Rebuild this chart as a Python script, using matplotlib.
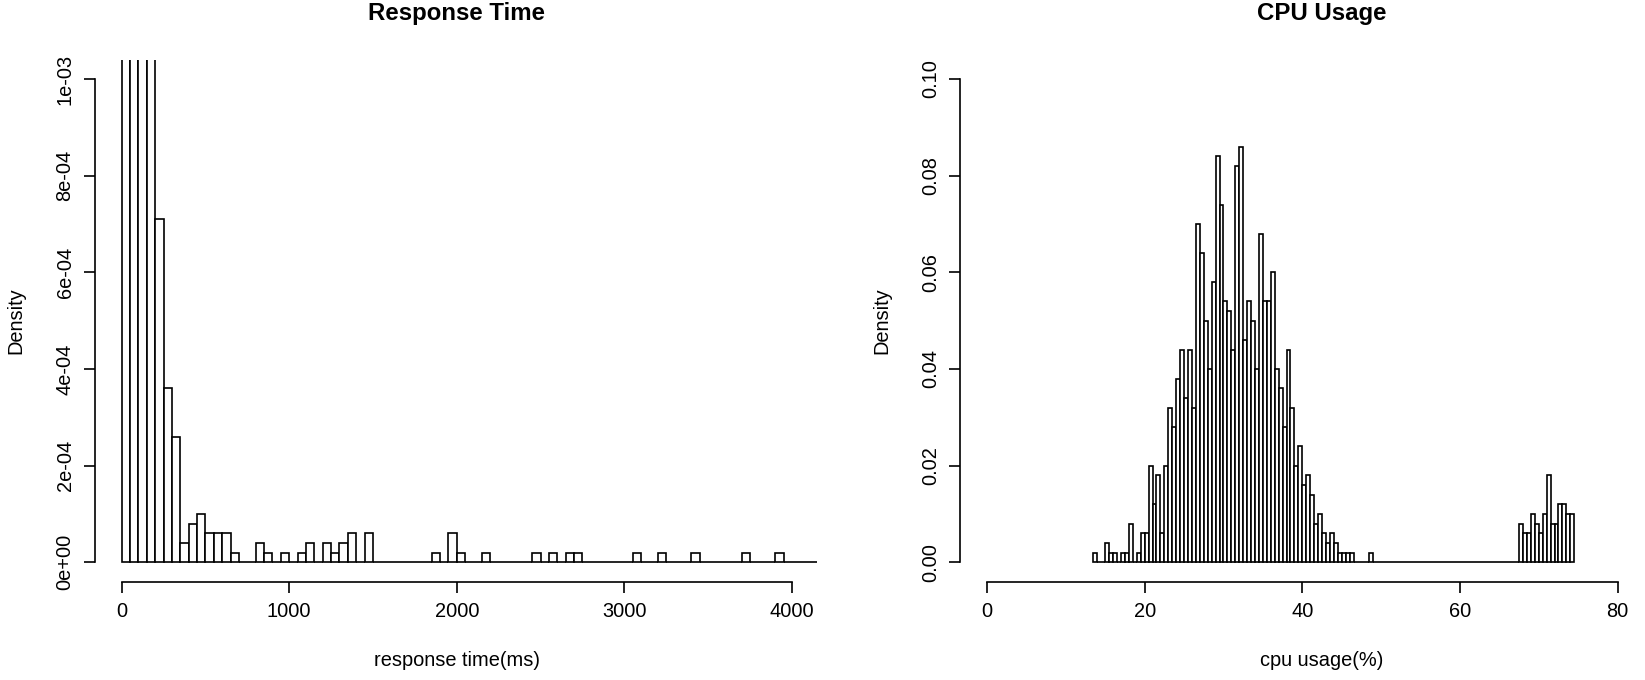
import matplotlib
matplotlib.use("Agg")
import matplotlib.pyplot as plt
import numpy as np

# ---------------- data ----------------
# Response time histogram: bins of 50 ms starting at 0 (density values, x1e-4)
rt_bin_start = 0
rt_bin_width = 50
rt_density_e4 = [
    24, 58, 60, 34, 7.1, 3.6, 2.6, 0.4, 0.8, 1.0,      # 0 - 500
    0.6, 0.6, 0.6, 0.2, 0, 0, 0.4, 0.2, 0, 0.2,        # 500 - 1000
    0, 0.2, 0.4, 0, 0.4, 0.2, 0.4, 0.6, 0, 0.6,        # 1000 - 1500
    0, 0, 0, 0, 0, 0, 0, 0.2, 0, 0.6,                  # 1500 - 2000
    0.2, 0, 0, 0.2, 0, 0, 0, 0, 0, 0.2,                # 2000 - 2500
    0, 0.2, 0, 0.2, 0.2, 0, 0, 0, 0, 0,                # 2500 - 3000
    0, 0.2, 0, 0, 0.2, 0, 0, 0, 0.2, 0,                # 3000 - 3500
    0, 0, 0, 0, 0.2, 0, 0, 0, 0.2, 0,                  # 3500 - 4000
    0, 0, 0,                                           # 4000 - 4150
]
rt_xticks = [0, 1000, 2000, 3000, 4000]
rt_yticks = [0, 2e-4, 4e-4, 6e-4, 8e-4, 1e-3]
rt_yticklabels = ["0e+00", "2e-04", "4e-04", "6e-04", "8e-04", "1e-03"]

# CPU usage histogram: bins of 0.5 % starting at 13.5 (observation counts, N = 1000)
cpu_bin_start = 13.5
cpu_bin_width = 0.5
cpu_counts = [
    1, 0, 0, 2, 1, 1, 0, 1, 1, 4, 0, 1, 3, 3,                 # 13.5 - 20.5
    10, 6, 9, 3, 10, 16, 14, 19, 22, 17, 22, 16,              # 20.5 - 26.5
    35, 32, 25, 20, 29, 42, 37, 27, 26, 22, 41, 43,           # 26.5 - 32.5
    23, 27, 25, 20, 34, 27, 27, 30, 20, 18, 14, 22, 16,       # 32.5 - 39.0
    10, 12, 8, 9, 7, 4,                                       # 39.0 - 42.0
    5, 3, 2, 3, 2, 1, 1, 1, 1, 0, 0, 0, 0, 1,                 # 42.0 - 49.0
    0, 0, 0, 0, 0, 0, 0, 0, 0, 0, 0, 0, 0, 0, 0, 0, 0, 0, 0,  # 49.0 - 58.5
    0, 0, 0, 0, 0, 0, 0, 0, 0, 0, 0, 0, 0, 0, 0, 0, 0, 0,     # 58.5 - 67.5
    4, 3, 3, 5, 4, 3, 5, 9, 4, 4, 6, 6, 5, 5,                 # 67.5 - 74.5
]
cpu_n = 1000
cpu_xticks = [0, 20, 40, 60, 80]
cpu_yticks = [0, 0.02, 0.04, 0.06, 0.08, 0.10]
cpu_yticklabels = ["0.00", "0.02", "0.04", "0.06", "0.08", "0.10"]

titles = ["Response Time", "CPU Usage"]
xlabels = ["response time(ms)", "cpu usage(%)"]
ylabel = "Density"

# ---------------- layout (pixels) ----------------
W, H = 1645, 680
Y_TOP, Y_BOT = 59.7, 581.6
LINE = 23.0
FS = 14.4          # tick / axis label size (pt at 100 dpi)
FS_TITLE = 17.3
LW = 1.2

plt.rcParams["font.family"] = ["Liberation Sans", "DejaVu Sans"]

fig = plt.figure(figsize=(W / 100, H / 100), dpi=100)
fig.patch.set_facecolor("white")


def px_ax(x0, x1):
    return fig.add_axes([x0 / W, 1 - Y_BOT / H, (x1 - x0) / W, (Y_BOT - Y_TOP) / H])


def style(ax, xlim, ylim, xticks, yticks, yticklabels, title, xlabel, x0px, x1px):
    ax.set_xlim(*xlim)
    ax.set_ylim(*ylim)
    for s in ["top", "right"]:
        ax.spines[s].set_visible(False)
    ax.spines["left"].set_bounds(yticks[0], yticks[-1])
    ax.spines["bottom"].set_bounds(xticks[0], xticks[-1])
    for s in ["left", "bottom"]:
        ax.spines[s].set_linewidth(LW)
    ax.set_xticks(xticks)
    ax.set_xticklabels([str(t) for t in xticks])
    ax.set_yticks(yticks)
    ax.set_yticklabels(yticklabels, rotation=90, va="center")
    ax.tick_params(direction="out", length=LINE * 0.5 * 0.72, width=LW,
                   labelsize=FS, pad=LINE * 0.5 * 0.72 - 2)
    ax.set_facecolor("none")
    cx = (x0px + x1px) / 2
    cy = (Y_TOP + Y_BOT) / 2
    fig.text(cx / W, 1 - 20 / H, title, ha="center", va="baseline",
             fontsize=FS_TITLE, fontweight="bold")
    fig.text(cx / W, 1 - (Y_BOT + 3 * LINE) / H, xlabel, ha="center", va="top",
             fontsize=FS)
    fig.text((x0px - 3 * LINE) / W, 1 - cy / H, ylabel, ha="right", va="center",
             rotation=90, fontsize=FS)


# ---------------- left: response time ----------------
L0, L1 = 94.8, 818.8
ax1 = px_ax(L0, L1)
rt_dens = np.array(rt_density_e4) * 1e-4
rt_edges = rt_bin_start + rt_bin_width * np.arange(len(rt_dens))
ax1.bar(rt_edges, rt_dens, width=rt_bin_width, align="edge",
        facecolor="white", edgecolor="black", linewidth=LW)
style(ax1, (-160, 4160), (-0.04e-3, 1.04e-3), rt_xticks, rt_yticks,
      rt_yticklabels, titles[0], xlabels[0], L0, L1)

# ---------------- right: cpu usage ----------------
R0, R1 = 960.2, 1683.8
ax2 = px_ax(R0, R1)
cpu_dens = np.array(cpu_counts) / (cpu_n * cpu_bin_width)
cpu_edges = cpu_bin_start + cpu_bin_width * np.arange(len(cpu_dens))
ax2.bar(cpu_edges, cpu_dens, width=cpu_bin_width, align="edge",
        facecolor="white", edgecolor="black", linewidth=LW)
style(ax2, (-3.4, 88.4), (-0.004, 0.104), cpu_xticks, cpu_yticks,
      cpu_yticklabels, titles[1], xlabels[1], R0, R1)

fig.savefig("out.png", dpi=100, facecolor="white")
